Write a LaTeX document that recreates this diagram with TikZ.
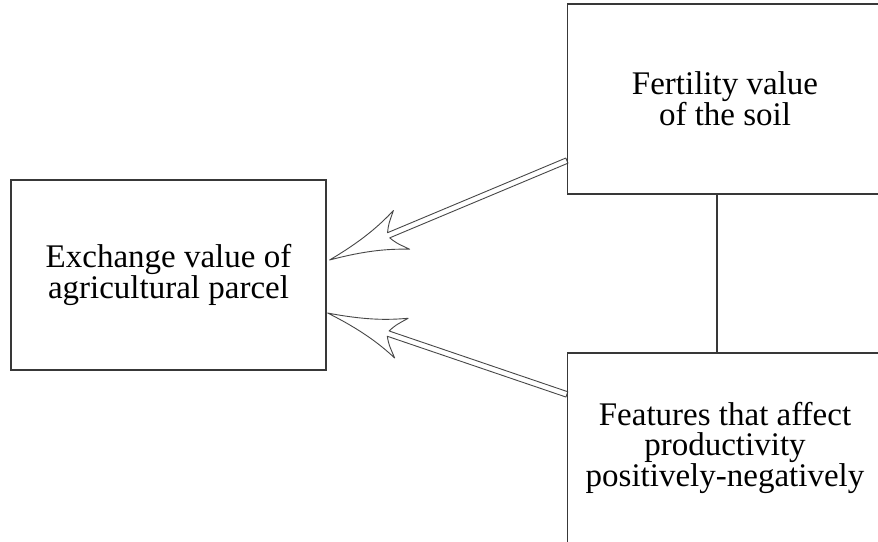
\documentclass[tikz,border=0pt]{standalone}
\usepackage{fontspec}
\setmainfont{Liberation Serif}
\usetikzlibrary{calc}

% Hollow block arrow with a double-line shaft and a flared, notched head.
% #1 = tail coordinate, #2 = tip coordinate
\makeatletter
\newcommand\openarrow[2]{%
  \pgfmathanglebetweenpoints{\pgfpointanchor{#1}{center}}{\pgfpointanchor{#2}{center}}%
  \edef\arrowang{\pgfmathresult}%
  \pgfpointdiff{\pgfpointanchor{#1}{center}}{\pgfpointanchor{#2}{center}}%
  \pgfmathveclen{\pgf@x}{\pgf@y}%
  \edef\arrowlen{\pgfmathresult}%
  \begin{scope}[shift={(#2)}, rotate=\arrowang, x=1pt, y=1pt]
    \draw[arrowline]
      (-\arrowlen,2.8) -- (-64,2.8)
      .. controls (-68,10) .. (-78,21)
      .. controls (-58,12) and (-36,5) .. (0,0)
      .. controls (-36,-5) and (-58,-12) .. (-78,-21)
      .. controls (-68,-10) .. (-64,-2.8)
      -- (-\arrowlen,-2.8) -- cycle;
  \end{scope}}
\makeatother

\tikzset{
  box/.style={draw=black!78, line width=1.2pt, minimum width=315pt,
    minimum height=190pt, align=center, inner sep=0pt,
    font=\fontsize{33}{30}\selectfont},
  arrowline/.style={draw=black!72, line width=0.9pt, fill=white,
    line join=round},
  link/.style={draw=black!78, line width=1.1pt}
}

\begin{document}
\begin{tikzpicture}[x=1pt, y=-1pt]
  \clip (0,0) rectangle (878,541);
  \fill[white] (0,0) rectangle (878,541);

  % boxes
  \node[box] (exch) at (168.5,275) {Exchange value of\\agricultural parcel};
  \node[box] (fert) at (725,99) {Fertility value\\of the soil};
  \node[box] (feat) at (725,448) {Features that affect\\productivity\\positively-negatively};

  % arrow end points on the box borders
  \coordinate (a1tail) at ([yshift=34pt]fert.south west);
  \coordinate (a1tip)  at ([xshift=3pt,yshift=15pt]exch.east);
  \coordinate (a2tail) at ([yshift=-42pt]feat.north west);
  \coordinate (a2tip)  at ([xshift=1pt,yshift=-38pt]exch.east);

  \openarrow{a1tail}{a1tip}
  \openarrow{a2tail}{a2tip}

  % redraw the box borders over the arrow tails
  \node[box, fill=none] at (exch) {\phantom{x}};
  \node[box, fill=none] at (fert) {\phantom{x}};
  \node[box, fill=none] at (feat) {\phantom{x}};

  % link between the two right-hand boxes
  \draw[link] ([xshift=-8pt]fert.south) -- ([xshift=-8pt]feat.north);
\end{tikzpicture}
\end{document}
